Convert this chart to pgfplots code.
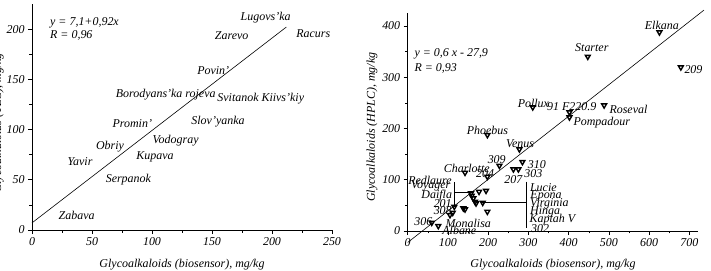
\documentclass[border=0pt]{standalone}
\usepackage{fontspec}
\setmainfont{Liberation Serif}
\usepackage{pgfplots}
\pgfplotsset{compat=1.18}
\newcommand\lf{\fontsize{12}{14}\selectfont\itshape}
\pgfplotsset{mystyle/.style={
  scale only axis, axis lines=left, axis line style={-, line width=0.6pt},
  tick align=outside, major tick length=4bp, minor tick length=2.5bp, minor tick num=1,
  tick style={line width=0.6pt, black},
  tick label style={font=\lf}, label style={font=\lf},
  /pgf/number format/assume math mode=true,
  clip=false,
}}
\begin{document}
\begin{tikzpicture}
% ---------------- left panel ----------------
\begin{axis}[mystyle, at={(32bp,41bp)}, anchor=south west, width=300bp, height=226bp,
  xmin=0, xmax=250, ymin=0, ymax=225,
  xtick={0,50,...,250}, ytick={0,50,...,200},
  xlabel={Glycoalkaloids (biosensor), mg/kg},
  ylabel={Glycoalkaloids (TLC), mg/kg},
  xlabel style={at={(axis description cs:0.5,-0.155)}, anchor=center},
  ylabel style={at={(axis description cs:-0.083,0.473)}, anchor=south},
]
\addplot[black, line width=0.6pt] coordinates {(0,7.1) (212,202.1)};
\addplot[only marks, mark=none, nodes near coords, point meta=explicit symbolic,
  every node near coord/.append style={anchor=center, font=\lf, inner sep=0pt}]
  table[col sep=comma, meta=label] {
x,y,label
194.7,211,Lugovs'ka
166.4,193,Zarevo
234.4,195,Racurs
151,159,Povin'
111.4,135,Borodyans'ka rojeva
190.6,131,Svitanok Kiivs'kiy
155,108,Slov'yanka
83.6,105.6,Promin'
119.7,89,Vodogray
65,83,Obriy
102.5,72.5,Kupava
40,68,Yavir
80.3,49.8,Serpanok
37.2,14.3,Zabava
};
\node[anchor=west, font=\lf, inner sep=0pt] at (axis cs:15,206) {y = 7,1+0,92x};
\node[anchor=west, font=\lf, inner sep=0pt] at (axis cs:15,193.6) {R = 0,96};
\end{axis}
% ---------------- right panel ----------------
\begin{axis}[mystyle, at={(407.7bp,40bp)}, anchor=south west, width=290.6bp, height=217.8bp,
  xmin=0, xmax=722, ymin=0, ymax=425,
  xtick={0,100,...,700}, ytick={0,100,...,400},
  xlabel={Glycoalkaloids (biosensor), mg/kg},
  ylabel={Glycoalkaloids (HPLC), mg/kg},
  xlabel style={at={(axis description cs:0.5,-0.153)}, anchor=center},
  ylabel style={at={(axis description cs:-0.092,0.477)}, anchor=south},
]
\addplot[black, line width=0.6pt] coordinates {(0,-22.4) (736,431)};
% leader lines
\addplot[black, line width=0.5pt] coordinates {(115.8,95) (115.8,47.4)};
\addplot[black, line width=0.5pt] coordinates {(115.8,75.5) (160,75.5)};
\addplot[black, line width=0.5pt] coordinates {(293.3,96.2) (293.3,5.3)};
\addplot[black, line width=0.5pt] coordinates {(183,56) (293.3,56)};
% data markers
\addplot[only marks, mark=triangle, mark size=2.8bp,
  mark options={rotate=180, line width=1.4pt, black}] table[col sep=comma] {
x,y
625.4,387.7
447.4,340.1
678.6,319.4
310.7,241.4
488,245.2
401.8,231.6
401.8,221.8
198,187.3
277.5,159.4
227.8,127.4
285,134.6
262.6,120.4
275,120.4
142.4,113.8
197.9,106
157.3,73.6
159,68.9
177.2,76.7
194.6,78.6
163,63.8
167.3,57.2
169.8,54
186.4,55.2
197.9,37.7
142.4,42.3
138.2,44.3
115.8,47.4
111.9,35.7
105.1,31.2
59.7,16.2
76,9.8
};
% labels
\addplot[only marks, mark=none, nodes near coords, point meta=explicit symbolic,
  every node near coord/.append style={anchor=center, font=\lf, inner sep=0pt}]
  table[col sep=comma, meta=label] {
x,y,label
631.4,402,Elkana
457.4,357.7,Starter
710,314.1,209
312.2,249.2,Pollux
407.7,242.5,91 F220.9
548.4,238,Roseval
482.2,212,Pompadour
197.9,197,Phoebus
279.2,169.8,Venus
221.2,138.5,309
320.7,130.1,310
312.2,112.6,303
262.5,99.5,207
146.7,122.3,Charlotte
192.1,111.2,204
55.4,99.5,Redlaure
57.2,88.4,Voyager
72.1,68.9,Daifla
87,54,201
87,39,308
38.8,18.1,306
150.6,15,Monalisa
128.3,0.6,Albane
337,84.5,Lucie
343.8,68.9,Epona
352,53.3,Virginia
341.3,37.7,Hinga
359.4,22.8,Kaptah V
328.9,5.3,302
};
\node[anchor=west, font=\lf, inner sep=0pt] at (axis cs:16.4,344.8) {y = 0,6 x - 27,9};
\node[anchor=west, font=\lf, inner sep=0pt] at (axis cs:16.4,317.5) {R = 0,93};
\end{axis}
\pgfresetboundingbox
\path[use as bounding box] (0,0) rectangle (711bp,271bp);
\end{tikzpicture}
\end{document}
